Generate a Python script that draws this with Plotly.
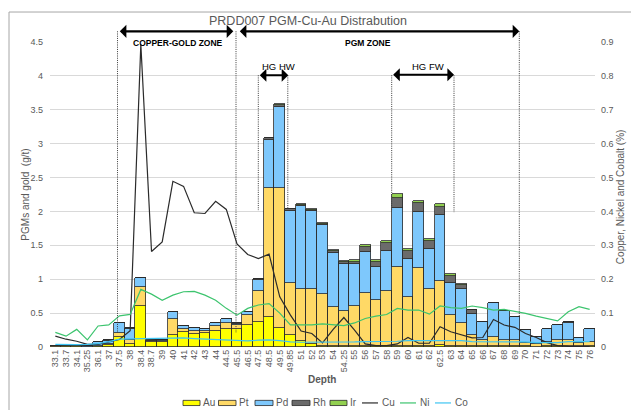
import plotly.graph_objects as go

# Sample depths (m) along hole PRDD007
depth = ["33.1", "33.7", "34.1", "35.25", "36.1", "37", "37.5", "38", "38.4", "38.7",
         "39", "40", "41", "42", "43", "44", "44.5", "45.5", "46.5", "47.5",
         "48.5", "49.5", "49.85", "51", "52", "53", "54", "54.25", "55", "56",
         "57", "58", "59", "60", "61", "62", "62.5", "63", "64", "65",
         "66", "67", "68", "69", "70", "71", "72", "73", "74", "75", "76"]

# PGMs and gold (g/t)
au = [0.005, 0.015, 0.008, 0.005, 0.01, 0.03, 0.15, 0.05, 0.60, 0.07,
      0.08, 0.18, 0.22, 0.19, 0.20, 0.23, 0.26, 0.27, 0.33, 0.37,
      0.45, 0.28, 0.17, 0.09, 0.04, 0.02, 0.01, 0.01, 0.01, 0.01,
      0.01, 0.01, 0.02, 0.01, 0.01, 0.02, 0.03, 0.02, 0.01, 0.02,
      0.01, 0.02, 0.01, 0.01, 0.01, 0.005, 0.01, 0.02, 0.01, 0.01, 0.01]
pt = [0.005, 0.005, 0.004, 0.002, 0.01, 0.01, 0.06, 0.05, 0.29, 0.015,
      0.01, 0.23, 0.05, 0.05, 0.03, 0.08, 0.10, 0.05, 0.14, 0.46,
      1.90, 2.07, 0.77, 0.76, 0.81, 0.76, 0.58, 0.52, 0.59, 0.79,
      0.69, 0.82, 1.16, 0.73, 1.15, 0.84, 0.95, 0.45, 0.35, 0.15,
      0.10, 0.13, 0.10, 0.09, 0.05, 0.045, 0.06, 0.08, 0.09, 0.055, 0.07]
pd_vals = [0.005, 0.0, 0.004, 0.002, 0.05, 0.05, 0.14, 0.17, 0.13, 0.01,
           0.01, 0.10, 0.04, 0.035, 0.03, 0.05, 0.06, 0.02, 0.05, 0.165,
           0.71, 1.19, 1.07, 1.23, 1.15, 1.02, 0.80, 0.69, 0.62, 0.60,
           0.48, 0.59, 0.87, 0.56, 0.83, 0.59, 0.97, 0.475, 0.49, 0.32,
           0.26, 0.50, 0.42, 0.345, 0.19, 0.10, 0.19, 0.225, 0.26, 0.07, 0.18]
rh = [0.005, 0.0, 0.004, 0.003, 0.005, 0.01, 0.01, 0.01, 0.0, 0.005,
      0.005, 0.0, 0.0, 0.0, 0.0, 0.0, 0.0, 0.01, 0.0, 0.005,
      0.02, 0.03, 0.02, 0.02, 0.02, 0.02, 0.03, 0.04, 0.04, 0.07,
      0.07, 0.11, 0.15, 0.11, 0.13, 0.11, 0.12, 0.10, 0.06, 0.05,
      0.005, 0.005, 0.003, 0.003, 0.003, 0.003, 0.003, 0.003, 0.003, 0.003, 0.003]
ir = [0.0, 0.0, 0.0, 0.0, 0.0, 0.0, 0.0, 0.0, 0.0, 0.0,
      0.0, 0.0, 0.0, 0.0, 0.0, 0.0, 0.0, 0.0, 0.0, 0.0,
      0.0, 0.015, 0.01, 0.01, 0.01, 0.01, 0.01, 0.01, 0.02, 0.03,
      0.03, 0.03, 0.06, 0.03, 0.04, 0.04, 0.04, 0.03, 0.025, 0.01,
      0.0, 0.0, 0.0, 0.0, 0.0, 0.0, 0.0, 0.0, 0.0, 0.0, 0.0]

# Base metals (%)
cu = [0.032, 0.023, 0.017, 0.008, 0.008, 0.016, 0.022, 0.048, 0.893, 0.282,
      0.31, 0.489, 0.474, 0.396, 0.394, 0.43, 0.406, 0.304, 0.273, 0.261,
      0.274, 0.148, 0.094, 0.047, 0.04, 0.012, 0.052, 0.087, 0.05, 0.009,
      0.004, 0.004, 0.009, 0.028, 0.011, 0.011, 0.06, 0.045, 0.035, 0.027,
      0.028, 0.081, 0.065, 0.058, 0.04, 0.028, 0.013, 0.004, 0.002, 0.001, 0.001]
ni = [0.043, 0.032, 0.052, 0.021, 0.062, 0.065, 0.092, 0.096, 0.17, 0.156,
      0.138, 0.153, 0.163, 0.164, 0.153, 0.138, 0.114, 0.094, 0.114, 0.124,
      0.128, 0.10, 0.065, 0.065, 0.065, 0.068, 0.066, 0.063, 0.071, 0.084,
      0.091, 0.096, 0.114, 0.109, 0.109, 0.097, 0.121, 0.116, 0.114, 0.121,
      0.116, 0.109, 0.111, 0.106, 0.099, 0.091, 0.084, 0.077, 0.104, 0.119, 0.111]
co = [0.008, 0.007, 0.007, 0.008, 0.01, 0.016, 0.023, 0.024, 0.025, 0.025,
      0.025, 0.027, 0.027, 0.025, 0.024, 0.022, 0.02, 0.019, 0.018, 0.02,
      0.021, 0.019, 0.015, 0.014, 0.014, 0.013, 0.014, 0.014, 0.015, 0.016,
      0.016, 0.017, 0.017, 0.019, 0.019, 0.019, 0.02, 0.019, 0.019, 0.016,
      0.016, 0.016, 0.016, 0.016, 0.015, 0.013, 0.013, 0.013, 0.016, 0.016, 0.016]

bar_series = [("Au", au, "#FFFF00"), ("Pt", pt, "#FFD966"), ("Pd", pd_vals, "#7EC8FC"),
              ("Rh", rh, "#6B6B6B"), ("Ir", ir, "#92D050")]
line_series = [("Cu", cu, "#2B2B2B"), ("Ni", ni, "#3CC46E"), ("Co", co, "#3EC5F2")]

W, H = 631, 410
L, R, T, B = 50, 595, 41.7, 347
OUTLINE = "#2A2A2A"
GREY = "#595959"
FONT = "Liberation Sans, Arial, sans-serif"


def fx(px):
    return (px - L) / (R - L)


def fy(py):
    return (B - py) / (B - T)


fig = go.Figure()
for name, vals, color in bar_series:
    fig.add_trace(go.Bar(x=depth, y=vals, name=name, yaxis="y", showlegend=False,
                         marker=dict(color=color, line=dict(color=OUTLINE, width=0.8))))
for name, vals, color in line_series:
    fig.add_trace(go.Scatter(x=depth, y=vals, name=name, yaxis="y2", mode="lines",
                             showlegend=False, line=dict(color=color, width=1.2)))

shapes = []
annotations = []

# chart frame
shapes.append(dict(type="line", xref="paper", yref="paper", x0=fx(9), x1=fx(640),
                   y0=fy(11.7), y1=fy(11.7), line=dict(color="#A6A6A6", width=1)))
shapes.append(dict(type="line", xref="paper", yref="paper", x0=fx(9), x1=fx(9),
                   y0=fy(11.7), y1=fy(420), line=dict(color="#A6A6A6", width=1)))

# zone boundary markers (dotted)
for xp, ytop, ybot in [(117.5, 31, 333), (236, 31, 333), (519.3, 31, 317),
                       (258.3, 75, 210), (287.8, 75, 209), (391.7, 75, 210), (454, 75, 212)]:
    shapes.append(dict(type="line", xref="paper", yref="paper", layer="above",
                       x0=fx(xp), x1=fx(xp), y0=fy(ytop), y1=fy(ybot),
                       line=dict(color="#3A3A3A", width=1, dash="1px,1.2px")))

# zone extent arrows
for x_start, x_end, yp in [(118.3, 233.3, 31), (238.3, 519.3, 31),
                           (258.3, 288.3, 75), (391.7, 454, 74.5)]:
    annotations.append(dict(xref="paper", yref="paper", x=fx(x_end), y=fy(yp),
                            axref="pixel", ayref="pixel", ax=-(x_end - x_start), ay=0,
                            text="", showarrow=True, arrowside="end+start",
                            arrowhead=1, arrowsize=1, arrowwidth=2.2, arrowcolor="#000000"))

# zone labels
for txt, xp, yp, bold, size in [("COPPER-GOLD ZONE", 177.5, 42.7, True, 8.5),
                                ("PGM ZONE", 368, 42.3, True, 8.5),
                                ("HG HW", 278.5, 66.5, False, 9.5),
                                ("HG FW", 428, 66.5, False, 9.5)]:
    annotations.append(dict(xref="paper", yref="paper", x=fx(xp), y=fy(yp),
                            text=f"<b>{txt}</b>" if bold else txt, showarrow=False,
                            xanchor="center", yanchor="middle",
                            font=dict(family=FONT, size=size, color="#000000")))

# titles
annotations.append(dict(xref="paper", yref="paper", x=fx(308), y=fy(20.7),
                        text="PRDD007 PGM-Cu-Au Distrabution", showarrow=False,
                        xanchor="center", yanchor="middle",
                        font=dict(family=FONT, size=12.5, color=GREY)))
annotations.append(dict(xref="paper", yref="paper", x=fx(322), y=fy(380),
                        text="<b>Depth</b>", showarrow=False, xanchor="center", yanchor="middle",
                        font=dict(family=FONT, size=10, color=GREY)))
annotations.append(dict(xref="paper", yref="paper", x=fx(25.5), y=fy(195),
                        text="PGMs and gold \u00a0(g/t)", showarrow=False, textangle=-90,
                        xanchor="center", yanchor="middle",
                        font=dict(family=FONT, size=10, color=GREY)))
annotations.append(dict(xref="paper", yref="paper", x=fx(620), y=fy(197),
                        text="Copper, Nickel and Cobalt (%)", showarrow=False, textangle=-90,
                        xanchor="center", yanchor="middle",
                        font=dict(family=FONT, size=10, color=GREY)))

# legend row
leg_y = 403
bar_keys = [(183, 200), (218.5, 236), (255, 273), (292, 310), (330, 347)]
for (x0, x1), (name, _, color) in zip(bar_keys, bar_series):
    shapes.append(dict(type="rect", xref="paper", yref="paper", x0=fx(x0), x1=fx(x1),
                       y0=fy(leg_y - 2.6), y1=fy(leg_y + 2.6), fillcolor=color,
                       line=dict(color=OUTLINE, width=0.8)))
    annotations.append(dict(xref="paper", yref="paper", x=fx(x1 + 1), y=fy(leg_y),
                            text=name, showarrow=False, xanchor="left", yanchor="middle",
                            font=dict(family=FONT, size=10, color=GREY)))
line_keys = [(362, 378), (400, 416), (435, 451)]
for (x0, x1), (name, _, color) in zip(line_keys, line_series):
    shapes.append(dict(type="line", xref="paper", yref="paper", x0=fx(x0), x1=fx(x1),
                       y0=fy(leg_y), y1=fy(leg_y), line=dict(color=color, width=1.2)))
    annotations.append(dict(xref="paper", yref="paper", x=fx(x1 + 1.5), y=fy(leg_y),
                            text=name, showarrow=False, xanchor="left", yanchor="middle",
                            font=dict(family=FONT, size=10, color=GREY)))

fig.update_layout(
    width=W, height=H,
    margin=dict(l=L, r=W - R, t=T, b=H - B, pad=0),
    paper_bgcolor="white", plot_bgcolor="white",
    barmode="stack", bargap=0,
    font=dict(family=FONT, size=9, color=GREY),
    showlegend=False,
    xaxis=dict(type="category", tickangle=-90, showgrid=False, ticks="", showline=False,
               zeroline=False, tickmode="array", tickvals=depth, ticktext=depth,
               tickfont=dict(size=9, color=GREY), range=[-0.5, 50.5]),
    yaxis=dict(range=[0, 4.5], dtick=0.5, gridcolor="#D9D9D9", gridwidth=1, zeroline=False,
               showline=False, ticks="", ticklabelstandoff=6, tickfont=dict(size=9, color=GREY)),
    yaxis2=dict(range=[0, 0.9], dtick=0.1, overlaying="y", side="right", showgrid=False,
                zeroline=False, showline=False, ticks="", ticklabelstandoff=5,
                tickfont=dict(size=9, color=GREY)),
    shapes=shapes,
    annotations=annotations,
)

fig.write_html("out.html")
